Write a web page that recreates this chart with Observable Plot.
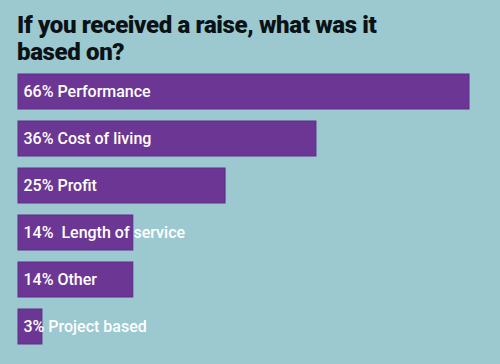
<!DOCTYPE html>
<html>
<head>
<meta charset="utf-8">
<script src="https://cdn.jsdelivr.net/npm/d3@7"></script>
<script src="https://cdn.jsdelivr.net/npm/@observablehq/plot@0.6"></script>
<style>
  html, body { margin: 0; padding: 0; background: #9bc9cf; }
  body { width: 500px; height: 364px; overflow: hidden; }
  #title { box-sizing: border-box; font-family: Roboto, "Noto Sans", sans-serif; font-weight: 900; font-size: 24px; line-height: 27px; color: #0b1216; padding: 12px 0 0 17px; height: 68px; letter-spacing: -0.35px; }
  #chart svg { display: block; }
  svg text { white-space: pre; }
</style>
</head>
<body>
<div id="title">If you received a raise, what was it<br>based on?</div>
<div id="chart"></div>
<script>
const categories = ["Performance", "Cost of living", "Profit", "Length of service", "Other", "Project based"];
const percents = [66, 36, 25, 14, 14, 3];
// bar lengths as drawn in the picture (in % units)
const barLengths = [66, 43.6, 30.3, 16.8, 16.8, 3.5];
const labels = ["66% Performance", "36% Cost of living", "25% Profit", "14%  Length of service", "14% Other", "3% Project based"];

const data = categories.map((c, i) => ({category: c, percent: percents[i], length: barLengths[i], label: labels[i]}));

const chart = Plot.plot({
  width: 500,
  height: 296,
  marginTop: 6,
  marginBottom: 18,
  marginLeft: 18,
  marginRight: 31,
  style: {background: "transparent", fontFamily: "Roboto, sans-serif"},
  x: {domain: [0, 66], axis: null},
  y: {domain: categories, paddingInner: 0.2616, paddingOuter: 0, align: 0, axis: null},
  marks: [
    Plot.barX(data, {x: "length", y: "category", fill: "#6c3794", stroke: "#5e2a88", strokeWidth: 1}),
    Plot.text(data, {x: 0, y: "category", text: "label", dx: 5, textAnchor: "start", fill: "white", fontSize: 16, fontWeight: 500})
  ]
});
document.getElementById("chart").appendChild(chart);
</script>
</body>
</html>
